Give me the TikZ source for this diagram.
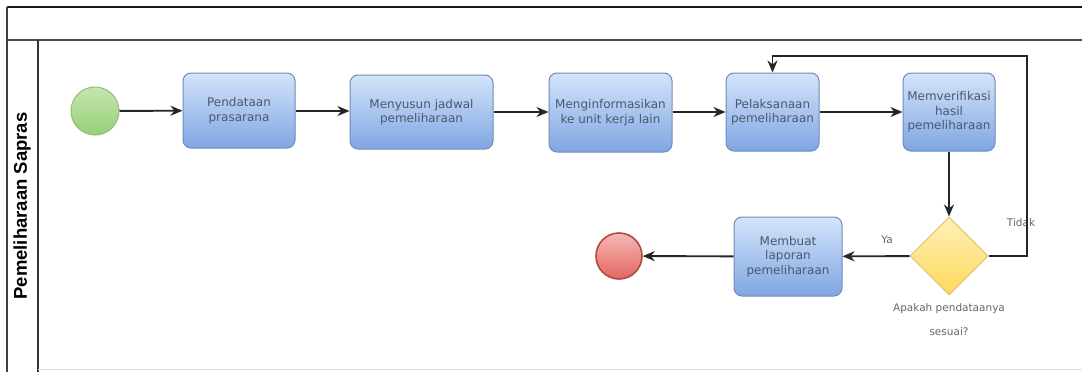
\documentclass[tikz,border=0pt]{standalone}
\usepackage{fontspec}
\setmainfont{DejaVu Sans}
\newfontfamily\lanefont{Liberation Sans}
\usetikzlibrary{shapes.geometric,arrows.meta}
\definecolor{boxtop}{HTML}{D4E4FA}
\definecolor{boxbot}{HTML}{7FA6E2}
\definecolor{boxline}{HTML}{6F8CB8}
\definecolor{txt}{HTML}{4A5870}
\definecolor{gtop}{HTML}{C4E6B0}
\definecolor{gbot}{HTML}{98CF78}
\definecolor{gline}{HTML}{8FBF78}
\definecolor{rtop}{HTML}{F6B8B6}
\definecolor{rbot}{HTML}{E46560}
\definecolor{rline}{HTML}{B04A45}
\definecolor{ytop}{HTML}{FFF0B8}
\definecolor{ybot}{HTML}{FFD95C}
\definecolor{yline}{HTML}{E0C26A}
\tikzset{
  task/.style={draw=boxline, line width=1pt, rounded corners=8pt, top color=boxtop, bottom color=boxbot,
    text=txt, font=\fontsize{12}{14.5}\selectfont, align=center, inner sep=0pt},
  flow/.style={draw=black!85, line width=1.9pt, -{Stealth[length=12pt,width=10pt]}},
  lbl/.style={text=black!60, font=\fontsize{10.5}{12}\selectfont},
}
\begin{document}
\begin{tikzpicture}[x=1pt,y=-1pt]
\useasboundingbox (0,0) rectangle (1082,372);
\fill[white] (0,0) rectangle (1082,372);
% pool frame
\draw[line width=2.2pt, black!90] (7,7) -- (1082,7);
\draw[line width=1.5pt, black!70] (7,40) -- (1082,40);
\draw[line width=1.2pt, black!75] (7,7) -- (7,372);
\draw[line width=1.4pt, black!80] (38,40) -- (38,372);
\draw[line width=0.6pt, black!12] (38,369) -- (1082,369);
\node[rotate=90, font=\lanefont\bfseries\fontsize{18.5}{20}\selectfont] (lane) at (22,206) {Pemeliharaan Sapras};
% nodes
\node[circle, draw=gline, line width=1pt, top color=gtop, bottom color=gbot, minimum size=48pt, inner sep=0pt] (start) at (95,111) {};
\node[task, minimum width=112pt, minimum height=75pt] (b1) at (239,110.5) {Pendataan\\prasarana};
\node[task, minimum width=143pt, minimum height=74pt] (b2) at (421.5,112) {Menyusun jadwal\\pemeliharaan};
\node[task, minimum width=123pt, minimum height=79pt] (b3) at (610.5,112.5) {Menginformasikan\\ke unit kerja lain};
\node[task, minimum width=93pt, minimum height=78pt] (b4) at (772.5,112) {Pelaksanaan\\pemeliharaan};
\node[task, minimum width=92pt, minimum height=78pt] (b5) at (949,112) {Memverifikasi\\hasil\\pemeliharaan};
\node[diamond, draw=yline, line width=1pt, top color=ytop, bottom color=ybot, minimum width=78pt, minimum height=78pt, inner sep=0pt] (dec) at (949,256) {};
\node[task, minimum width=108pt, minimum height=79pt] (b6) at (788,256.5) {Membuat\\laporan\\pemeliharaan};
\node[circle, draw=rline, line width=1.6pt, top color=rtop, bottom color=rbot, minimum size=46pt, inner sep=0pt] (end) at (619,256) {};
\node[lbl, align=center] (q1) at (949,309) {Apakah pendataanya};
\node[lbl] (q2) at (949,332) {sesuai?};
\node[lbl] (ya) at (887,240) {Ya};
\node[lbl] (tidak) at (1021,223) {Tidak};
\coordinate (c1) at (1027,256);
\coordinate (c2) at (1027,56);
\coordinate (c3) at (b4.north |- c2);
% connectors
\draw[flow] (start) -- (b1);
\draw[flow] (b1.east |- 0,111) -- (b2.west |- 0,111);
\draw[flow] (b2.east |- 0,112) -- (b3.west |- 0,112);
\draw[flow] (b3.east |- 0,112) -- (b4.west |- 0,112);
\draw[flow] (b4) -- (b5);
\draw[flow] (b5) -- (dec);
\draw[flow] (dec) -- (b6);
\draw[flow] (b6) -- (end);
\draw[flow] (dec.east) -- (c1) -- (c2) -- (c3) -- (b4.north);
\end{tikzpicture}
\end{document}
